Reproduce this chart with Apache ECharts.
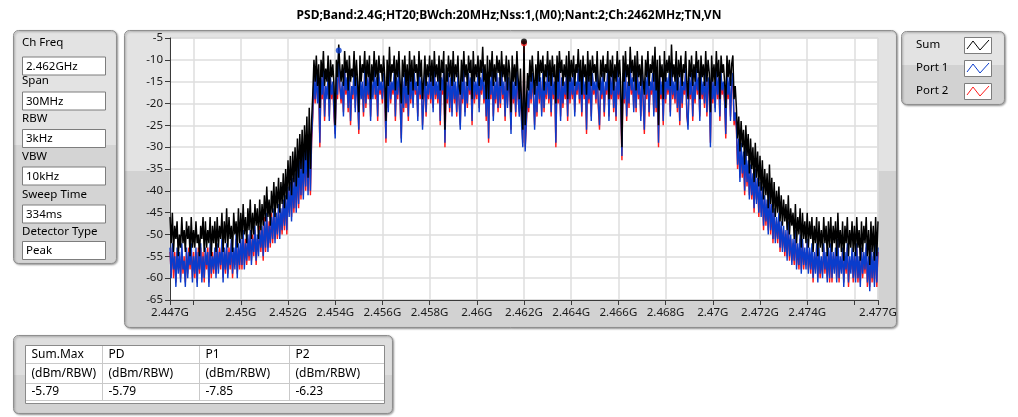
<!DOCTYPE html>
<html><head><meta charset="utf-8">
<script src="https://cdn.jsdelivr.net/npm/echarts@6/dist/echarts.min.js"></script>
<style>html,body{margin:0;padding:0;background:#fff}#c{width:1018px;height:417px}</style>
</head><body><div id="c"></div>
<script>
const TITLE = 'PSD;Band:2.4G;HT20;BWch:20MHz;Nss:1,(M0);Nant:2;Ch:2462MHz;TN,VN';
const FREQ_START_MHZ = 2447;   // first row starts here
const ROW_SPAN_MHZ = 1;        // each row below covers 1 MHz
const FREQ_STEP_MHZ = 0.05;    // spacing of values inside a row

// Sum trace (dBm): one row per MHz, 20 readings per row
const sumRows = [
[-46,-52,-45,-54,-48,-51,-47,-55,-50,-53,-46,-52,-49,-54,-47,-51,-48,-55,-46,-53],
[-49,-53,-47,-52,-50,-55,-48,-51,-46,-54,-47,-53,-49,-52,-46,-55,-48,-52,-47,-54],
[-46,-53,-48,-51,-45,-54,-47,-52,-44,-53,-46,-51,-48,-54,-45,-50,-47,-53,-44,-52],
[-45,-51,-43,-50,-46,-52,-44,-49,-42,-51,-45,-50,-43,-48,-44,-51,-42,-49,-43,-48],
[-41,-47,-39,-46,-42,-48,-40,-45,-38,-46,-39,-44,-37,-45,-38,-43,-36,-44,-35,-42],
[-33,-40,-32,-41,-31,-38,-30,-39,-28,-37,-27,-35,-26,-36,-25,-33,-23,-37,-21,-35],
[-24,-18,-10,-15,-9,-16,-11,-21,-10,-14,-8,-16,-12,-15,-9,-19,-10,-14,-11,-16],
[-25,-10,-14,-6.5,-12,-15,-11,-16,-8,-13,-10,-17,-9,-15,-12,-14,-8,-16,-10,-15],
[-22,-9,-15,-11,-13,-8,-16,-10,-14,-9,-19,-11,-15,-8,-14,-10,-16,-9,-13,-11],
[-15,-9,-14,-24,-10,-16,-7,-15,-11,-13,-9,-17,-10,-14,-8,-15,-20,-10,-14,-9],
[-16,-11,-18,-8,-15,-10,-17,-9,-13,-11,-16,-8,-14,-10,-19,-15,-9,-16,-11,-14],
[-9,-15,-10,-16,-8,-14,-11,-15,-9,-17,-10,-13,-8,-26,-11,-15,-9,-14,-10,-16],
[-8,-15,-11,-14,-9,-16,-18,-10,-15,-8,-14,-11,-16,-9,-13,-10,-19,-8,-15,-11],
[-14,-9,-16,-10,-13,-7,-15,-11,-19,-9,-19,-10,-14,-8,-16,-11,-15,-9,-13,-10],
[-16,-8,-14,-11,-15,-9,-17,-10,-13,-22,-9,-15,-11,-16,-8,-14,-19,-12,-21,-26],
[-5.79,-25,-20,-13,-17,-10,-15,-9,-14,-18,-11,-16,-8,-15,-10,-13,-9,-17,-11,-14],
[-8,-15,-10,-16,-9,-14,-11,-20,-9,-15,-8,-13,-10,-16,-11,-14,-9,-19,-8,-15],
[-10,-14,-9,-16,-11,-13,-7.5,-15,-10,-18,-9,-14,-11,-18,-8,-15,-10,-16,-9,-13],
[-11,-15,-8,-16,-17,-10,-14,-9,-15,-11,-13,-8,-19,-10,-14,-9,-17,-11,-15,-8],
[-14,-10,-16,-30,-9,-15,-8,-14,-11,-16,-7,-13,-10,-15,-9,-17,-8,-14,-11,-16],
[-9,-15,-18,-10,-14,-8,-16,-11,-13,-9,-15,-7,-17,-10,-25,-9,-14,-11,-19,-8],
[-15,-10,-13,-9,-16,-6.5,-14,-11,-15,-8,-17,-10,-14,-9,-16,-11,-13,-8,-15,-19],
[-10,-14,-9,-16,-11,-15,-8,-13,-10,-19,-9,-14,-11,-16,-8,-15,-10,-13,-22,-9],
[-15,-11,-16,-8,-14,-10,-19,-9,-13,-11,-15,-21,-9,-14,-10,-16,-11,-9,-19,-16],
[-21,-28,-23,-31,-24,-30,-26,-34,-25,-32,-27,-36,-28,-35,-30,-38,-29,-37,-31,-39],
[-32,-40,-33,-42,-35,-41,-36,-44,-34,-43,-37,-45,-38,-46,-40,-45,-39,-47,-41,-48],
[-42,-47,-43,-49,-41,-50,-44,-48,-45,-51,-43,-52,-46,-50,-44,-53,-45,-51,-47,-52],
[-45,-53,-47,-51,-46,-54,-48,-52,-46,-55,-47,-53,-49,-54,-46,-52,-48,-55,-47,-53],
[-46,-54,-48,-52,-47,-55,-45,-53,-49,-54,-47,-56,-48,-52,-46,-55,-49,-53,-47,-54],
[-48,-55,-46,-53,-49,-56,-47,-54,-48,-52,-46,-55,-49,-57,-47,-54,-48,-56,-46,-55],
[-47]
];

// Port 1 trace (dBm)
const port1Rows = [
[-53,-60,-52,-58,-55,-62,-53,-59,-54,-61,-52,-58,-56,-62,-53,-60,-54,-57,-52,-61],
[-55,-59,-53,-62,-54,-58,-52,-61,-55,-60,-53,-57,-54,-62,-52,-59,-55,-58,-53,-60],
[-52,-59,-54,-57,-51,-61,-53,-58,-52,-60,-54,-57,-51,-59,-53,-58,-50,-60,-52,-57],
[-51,-57,-49,-58,-52,-56,-50,-55,-49,-57,-51,-54,-48,-56,-50,-55,-49,-53,-48,-55],
[-47,-53,-45,-54,-48,-52,-46,-51,-44,-52,-45,-50,-43,-51,-44,-49,-42,-48,-41,-49],
[-39,-46,-38,-47,-37,-44,-36,-45,-34,-43,-33,-41,-32,-42,-30,-39,-29,-41,-27,-40],
[-28,-22,-14,-19,-13,-20,-15,-29,-14,-18,-12,-23,-16,-19,-13,-24,-14,-18,-15,-22],
[-28,-14,-18,-7.85,-16,-19,-15,-23,-12,-17,-14,-21,-13,-24,-16,-18,-12,-22,-14,-19],
[-26,-13,-19,-15,-22,-12,-20,-14,-18,-13,-24,-15,-19,-12,-18,-14,-23,-13,-17,-15],
[-19,-13,-18,-28,-14,-22,-12,-19,-15,-17,-13,-23,-14,-18,-12,-19,-29,-14,-21,-13],
[-20,-15,-23,-12,-19,-14,-21,-13,-17,-15,-24,-12,-18,-14,-26,-19,-13,-22,-15,-18],
[-13,-19,-14,-22,-12,-18,-15,-19,-13,-24,-14,-17,-12,-29,-15,-19,-13,-21,-14,-23],
[-12,-19,-15,-22,-13,-20,-26,-14,-19,-12,-23,-15,-20,-13,-17,-14,-24,-12,-19,-15],
[-18,-13,-22,-14,-17,-12,-19,-15,-23,-13,-28,-14,-18,-12,-24,-15,-19,-13,-21,-14],
[-20,-12,-18,-15,-23,-13,-21,-14,-17,-27,-13,-19,-15,-22,-12,-18,-23,-16,-25,-30],
[-8.5,-31,-24,-17,-21,-14,-19,-13,-18,-26,-15,-22,-12,-19,-14,-23,-13,-21,-15,-18],
[-12,-19,-14,-22,-13,-18,-15,-29,-13,-19,-12,-24,-14,-20,-15,-18,-13,-23,-12,-19],
[-14,-18,-13,-23,-15,-17,-12,-19,-14,-22,-13,-18,-15,-26,-12,-19,-14,-24,-13,-17],
[-15,-19,-12,-20,-25,-14,-18,-13,-22,-15,-17,-12,-24,-14,-18,-13,-21,-15,-23,-12],
[-18,-14,-20,-32,-13,-19,-12,-23,-15,-20,-11,-17,-14,-22,-13,-21,-12,-18,-15,-24],
[-13,-19,-26,-14,-18,-12,-22,-15,-17,-13,-23,-12,-21,-14,-29,-13,-18,-15,-24,-12],
[-19,-14,-17,-13,-23,-11,-18,-15,-19,-12,-21,-14,-24,-13,-20,-15,-17,-12,-22,-26],
[-14,-18,-13,-23,-15,-19,-12,-17,-14,-24,-13,-18,-15,-20,-12,-22,-14,-17,-30,-13],
[-19,-15,-22,-12,-18,-14,-23,-13,-17,-15,-19,-27,-13,-18,-14,-24,-15,-13,-24,-22],
[-25,-34,-28,-38,-29,-36,-31,-40,-30,-38,-33,-42,-34,-41,-36,-44,-35,-43,-37,-45],
[-38,-46,-39,-48,-41,-47,-42,-50,-40,-49,-43,-51,-44,-52,-46,-51,-45,-53,-47,-54],
[-48,-54,-49,-56,-47,-55,-50,-57,-51,-56,-49,-58,-52,-57,-50,-59,-51,-57,-53,-58],
[-51,-59,-53,-58,-52,-60,-54,-59,-52,-61,-53,-59,-55,-60,-52,-58,-54,-61,-53,-60],
[-52,-60,-54,-59,-53,-61,-51,-60,-55,-59,-53,-62,-54,-58,-52,-61,-55,-59,-53,-60],
[-54,-61,-52,-60,-55,-62,-53,-59,-54,-58,-52,-61,-55,-63,-53,-60,-54,-62,-52,-61],
[-53]
];

// Port 2 trace (dBm)
const port2Rows = [
[-54,-59,-53,-60,-54,-61,-54,-58,-55,-60,-53,-59,-55,-61,-54,-59,-53,-58,-53,-60],
[-54,-60,-54,-61,-53,-59,-53,-60,-54,-61,-54,-58,-53,-61,-53,-60,-54,-59,-54,-59],
[-53,-58,-53,-58,-52,-60,-54,-59,-53,-59,-53,-58,-52,-60,-54,-57,-51,-59,-53,-58],
[-52,-58,-50,-57,-51,-57,-51,-56,-50,-56,-50,-55,-49,-57,-51,-54,-48,-54,-49,-56],
[-46,-54,-46,-53,-47,-53,-45,-52,-45,-51,-46,-51,-44,-50,-45,-50,-43,-49,-42,-50],
[-40,-45,-39,-46,-38,-45,-37,-44,-35,-44,-34,-42,-33,-41,-31,-40,-30,-40,-28,-41],
[-29,-23,-15,-20,-14,-19,-16,-30,-15,-19,-13,-24,-17,-18,-14,-23,-15,-19,-16,-23],
[-27,-15,-19,-10,-17,-20,-16,-22,-13,-18,-15,-22,-14,-25,-17,-19,-13,-21,-15,-18],
[-27,-14,-18,-16,-23,-13,-21,-15,-19,-14,-23,-16,-18,-13,-19,-15,-24,-14,-18,-16],
[-20,-14,-19,-29,-15,-21,-13,-20,-16,-18,-14,-24,-15,-19,-13,-20,-28,-15,-22,-14],
[-21,-16,-24,-13,-20,-15,-20,-14,-18,-16,-23,-13,-19,-15,-25,-20,-14,-23,-16,-19],
[-14,-20,-15,-21,-13,-19,-16,-20,-14,-25,-15,-18,-13,-30,-16,-20,-14,-22,-15,-22],
[-13,-20,-16,-23,-14,-19,-25,-15,-20,-13,-22,-16,-21,-14,-18,-15,-25,-13,-20,-16],
[-19,-14,-21,-15,-18,-13,-20,-16,-24,-14,-29,-15,-19,-13,-23,-16,-20,-14,-22,-15],
[-21,-13,-19,-16,-24,-14,-20,-15,-18,-26,-14,-20,-16,-23,-13,-19,-22,-17,-24,-29],
[-6.23,-30,-25,-18,-22,-15,-20,-14,-19,-25,-16,-23,-13,-20,-15,-22,-14,-22,-16,-19],
[-13,-20,-15,-23,-14,-19,-16,-30,-14,-20,-13,-23,-15,-21,-16,-19,-14,-24,-13,-20],
[-15,-19,-14,-22,-16,-18,-13,-20,-15,-23,-14,-19,-16,-27,-13,-20,-15,-23,-14,-18],
[-16,-20,-13,-21,-26,-15,-19,-14,-23,-16,-18,-13,-23,-15,-19,-14,-22,-16,-24,-13],
[-19,-15,-21,-33,-14,-20,-13,-24,-16,-21,-12,-18,-15,-21,-14,-22,-13,-19,-16,-23],
[-14,-20,-27,-15,-19,-13,-23,-16,-18,-14,-22,-13,-22,-15,-30,-14,-19,-16,-25,-13],
[-20,-15,-18,-14,-22,-12,-19,-16,-20,-13,-22,-15,-25,-14,-21,-16,-18,-13,-23,-25],
[-15,-19,-14,-24,-16,-20,-13,-18,-15,-23,-14,-19,-16,-21,-13,-23,-15,-18,-29,-14],
[-20,-16,-21,-13,-19,-15,-24,-14,-18,-16,-20,-28,-14,-19,-15,-23,-16,-14,-25,-23],
[-26,-35,-29,-37,-30,-37,-32,-41,-31,-39,-34,-41,-35,-42,-37,-45,-36,-42,-38,-46],
[-39,-45,-40,-49,-42,-48,-43,-49,-41,-50,-44,-52,-45,-51,-47,-52,-46,-54,-48,-53],
[-49,-55,-50,-55,-48,-56,-51,-56,-52,-57,-50,-57,-53,-58,-51,-58,-52,-58,-54,-57],
[-52,-58,-54,-59,-53,-61,-55,-58,-53,-60,-54,-60,-56,-59,-53,-59,-55,-60,-54,-61],
[-53,-61,-55,-58,-54,-60,-52,-61,-56,-58,-54,-61,-55,-59,-53,-62,-56,-58,-54,-61],
[-55,-60,-53,-61,-56,-61,-54,-60,-55,-59,-53,-62,-56,-62,-54,-61,-55,-61,-53,-62],
[-54]
];

const xTickValues = [2447, 2448, 2450, 2452, 2454, 2456, 2458, 2460, 2462, 2464, 2466, 2468, 2470, 2472, 2474, 2476, 2477];
const xLabelValues = [2447, 2450, 2452, 2454, 2456, 2458, 2460, 2462, 2464, 2466, 2468, 2470, 2472, 2474, 2477];

const settingNames = ['Ch Freq', 'Span', 'RBW', 'VBW', 'Sweep Time', 'Detector Type'];
const settingValues = ['2.462GHz', '30MHz', '3kHz', '10kHz', '334ms', 'Peak'];

const legendNames = ['Sum', 'Port 1', 'Port 2'];
const tableHeaders = ['Sum.Max', 'PD', 'P1', 'P2'];
const tableUnits = ['(dBm/RBW)', '(dBm/RBW)', '(dBm/RBW)', '(dBm/RBW)'];
const tableValues = ['-5.79', '-5.79', '-7.85', '-6.23'];

const COLORS = { sum: '#000000', p1: '#0a3ccc', p2: '#ff1a1a' };
const FONT = "'Noto Sans', sans-serif";

function toPairs(rows) {
  const out = [];
  rows.forEach((row, r) => row.forEach((v, k) => {
    out.push([+(FREQ_START_MHZ + r * ROW_SPAN_MHZ + k * FREQ_STEP_MHZ).toFixed(2), v]);
  }));
  return out;
}
function maxPoint(pairs) {
  let best = pairs[0];
  pairs.forEach(p => { if (p[1] > best[1]) best = p; });
  return best;
}

// ---------- graphic (panels, texts) ----------
const g = [];
function panel(x, y, w, h, split, c1, c2) {
  g.push({
    type: 'rect', z: -10,
    shape: { x: x, y: y, width: w, height: h, r: 5 },
    style: {
      fill: { type: 'linear', x: 0, y: 0, x2: 0, y2: 1, colorStops: [
        { offset: 0, color: c1 }, { offset: split, color: c1 },
        { offset: split, color: c2 }, { offset: 1, color: c2 }] },
      stroke: '#8f8f8f', lineWidth: 1,
      shadowBlur: 2, shadowOffsetX: 1, shadowOffsetY: 1, shadowColor: 'rgba(0,0,0,0.35)'
    }
  });
}
function txt(x, y, s, size, opts) {
  g.push(Object.assign({
    type: 'text', z: 20, x: x, y: y,
    style: { text: s, fontSize: size, fontFamily: FONT, fill: '#000', align: 'left', verticalAlign: 'middle' }
  }, opts || {}));
}
function box(x, y, w, h, fill, stroke) {
  g.push({ type: 'rect', z: 5, shape: { x: x, y: y, width: w, height: h }, style: { fill: fill, stroke: stroke, lineWidth: 1 } });
}

// chart panel
panel(124.5, 30.5, 772, 297, 0.473, '#e3e3e3', '#d2d2d2');
// left settings panel
panel(13.5, 30.5, 103, 233, 0.49, '#e3e3e3', '#d4d4d4');
const labelY = [43, 81, 119, 157, 195, 232];
const boxY = [57, 92, 129.5, 167, 205, 241.5];
settingNames.forEach((n, i) => {
  txt(22, labelY[i], n, 11.5);
  box(22.5, boxY[i], 83, 18, '#ffffff', '#7d7d7d');
  txt(26, boxY[i] + 9.5, settingValues[i], 11.5);
});
// legend panel
panel(901.5, 31.5, 103, 73, 0.46, '#e3e3e3', '#d2d2d2');
const legendY = [45, 68, 91];
const legendColors = [COLORS.sum, COLORS.p1, COLORS.p2];
legendNames.forEach((n, i) => {
  txt(916, legendY[i], n, 11.5);
  const by = legendY[i] - 8;
  box(964.5, by + 0.5, 27, 16, '#ffffff', '#7d7d7d');
  g.push({ type: 'polyline', z: 6, shape: { points: [[967, by + 12], [973, by + 4], [980, by + 13], [989, by + 3]] },
    style: { stroke: legendColors[i], lineWidth: 1, fill: null } });
});
// table panel
panel(13.5, 335.5, 379, 78, 0.5, '#dedede', '#d2d2d2');
box(25.5, 345.5, 359, 58, '#ffffff', '#8a8a8a');
const colX = [25.5, 102.5, 199.5, 289.5, 384.5];
const rowY = [345.5, 363.5, 383.5, 400.5];
[1, 2, 3].forEach(r => g.push({ type: 'line', z: 6, shape: { x1: 26, y1: rowY[r], x2: 384, y2: rowY[r] }, style: { stroke: '#c9c9c9', lineWidth: 1 } }));
[1, 2, 3].forEach(c => g.push({ type: 'line', z: 6, shape: { x1: colX[c], y1: 346, x2: colX[c], y2: 400.5 }, style: { stroke: '#c9c9c9', lineWidth: 1 } }));
tableHeaders.forEach((h, c) => {
  txt(colX[c] + 6, 355, h, 12);
  txt(colX[c] + 6, 374, tableUnits[c], 12);
  txt(colX[c] + 6, 392, tableValues[c], 12);
});

const chart = echarts.init(document.getElementById('c'), null, { renderer: 'canvas' });
const sumData = toPairs(sumRows), p1Data = toPairs(port1Rows), p2Data = toPairs(port2Rows);
const peaks = [maxPoint(p2Data), maxPoint(sumData), maxPoint(p1Data)];

chart.setOption({
  animation: false,
  backgroundColor: '#ffffff',
  title: { text: TITLE, left: 'center', top: 5,
    textStyle: { fontSize: 12, fontWeight: 'bold', color: '#000', fontFamily: FONT } },
  grid: { left: 170, top: 38, width: 708, height: 262, show: true, backgroundColor: '#ffffff', borderColor: '#c4c4c4', borderWidth: 1 },
  xAxis: {
    type: 'value', min: 2447, max: 2477,
    axisLine: { show: true, onZero: false, lineStyle: { color: '#3a3a3a', width: 1 } },
    axisTick: { show: true, customValues: xTickValues, length: 5, lineStyle: { color: '#3a3a3a' } },
    axisLabel: { customValues: xLabelValues, color: '#1a1a1a', fontSize: 11.5, fontFamily: FONT, margin: 7,
      formatter: v => parseFloat((v / 1000).toFixed(3)) + 'G' },
    splitLine: { show: true, lineStyle: { color: '#dedede', width: 1.5 } }
  },
  yAxis: {
    type: 'value', min: -65, max: -5, interval: 5,
    axisLine: { show: true, onZero: false, lineStyle: { color: '#3a3a3a', width: 1 } },
    axisTick: { show: true, length: 5, lineStyle: { color: '#3a3a3a' } },
    axisLabel: { color: '#1a1a1a', fontSize: 11.5, fontFamily: FONT, margin: 7 },
    splitLine: { show: true, lineStyle: { color: '#dedede', width: 1.5 } }
  },
  graphic: g,
  series: [
    { name: 'Port 2', type: 'line', data: p2Data, symbol: 'none', lineStyle: { color: COLORS.p2, width: 1.4 }, z: 2 },
    { name: 'Port 1', type: 'line', data: p1Data, symbol: 'none', lineStyle: { color: COLORS.p1, width: 1.4 }, z: 3 },
    { name: 'Sum', type: 'line', data: sumData, symbol: 'none', lineStyle: { color: COLORS.sum, width: 1.5 }, z: 4 },
    { name: 'Max', type: 'scatter', z: 5, symbolSize: 6,
      data: peaks.map((p, i) => ({ value: p, itemStyle: { color: [COLORS.p2, COLORS.sum, COLORS.p1][i] } })) }
  ]
});
</script>
</body></html>
